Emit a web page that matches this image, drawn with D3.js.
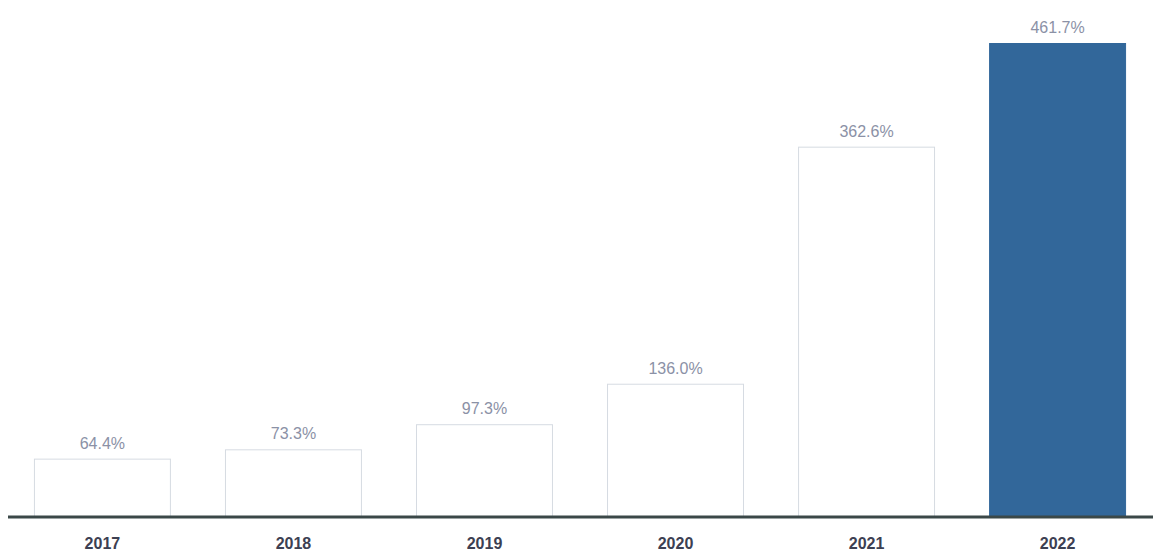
<!DOCTYPE html>
<html>
<head>
<meta charset="utf-8">
<script src="https://cdn.jsdelivr.net/npm/d3@7"></script>
<style>
  html, body { margin: 0; padding: 0; background: #ffffff; }
  svg { display: block; }
</style>
</head>
<body>
<svg id="chart" width="1160" height="553"></svg>
<script>
// Yearly values (%)
const years = ["2017", "2018", "2019", "2020", "2021", "2022"];
const values = [64.4, 73.3, 97.3, 136.0, 362.6, 461.7];
const valueLabels = ["64.4%", "73.3%", "97.3%", "136.0%", "362.6%", "461.7%"];
const highlightYear = "2022";

const svg = d3.select("#chart");
const axisY = 517;

const x = d3.scaleBand()
  .domain(years)
  .range([7, 1153])
  .paddingInner(0.283)
  .paddingOuter(0.141);

const y = d3.scaleLinear()
  .domain([0, 461.7])
  .range([526, 43]);

const data = years.map((yr, i) => ({ year: yr, value: values[i], label: valueLabels[i] }));

// Bars
svg.append("g").selectAll("rect")
  .data(data)
  .join("rect")
  .attr("x", d => x(d.year) + 0.5)
  .attr("y", d => y(d.value) + 0.5)
  .attr("width", x.bandwidth() - 1)
  .attr("height", d => axisY - y(d.value))
  .attr("fill", d => d.year === highlightYear ? "#32679a" : "#ffffff")
  .attr("stroke", d => d.year === highlightYear ? "#32679a" : "#d6dbe2")
  .attr("stroke-width", 1);

// Value labels
svg.append("g").selectAll("text")
  .data(data)
  .join("text")
  .attr("x", d => x(d.year) + x.bandwidth() / 2)
  .attr("y", d => y(d.value) - 10)
  .attr("text-anchor", "middle")
  .attr("font-family", "Liberation Sans, Arial, sans-serif")
  .attr("font-size", 16)
  .attr("fill", "#8b91a6")
  .text(d => d.label);

// Baseline axis with year labels
const axis = d3.axisBottom(x).tickSize(0).tickPadding(21);
const gAxis = svg.append("g")
  .attr("transform", `translate(0,${axisY})`)
  .call(axis);
gAxis.select(".domain")
  .attr("d", "M8,0H1153")
  .attr("stroke", "#3b4848")
  .attr("stroke-width", 3);
gAxis.selectAll("text")
  .attr("font-family", "Liberation Sans, Arial, sans-serif")
  .attr("font-size", 16)
  .attr("font-weight", "bold")
  .attr("fill", "#3c4052");
</script>
</body>
</html>
